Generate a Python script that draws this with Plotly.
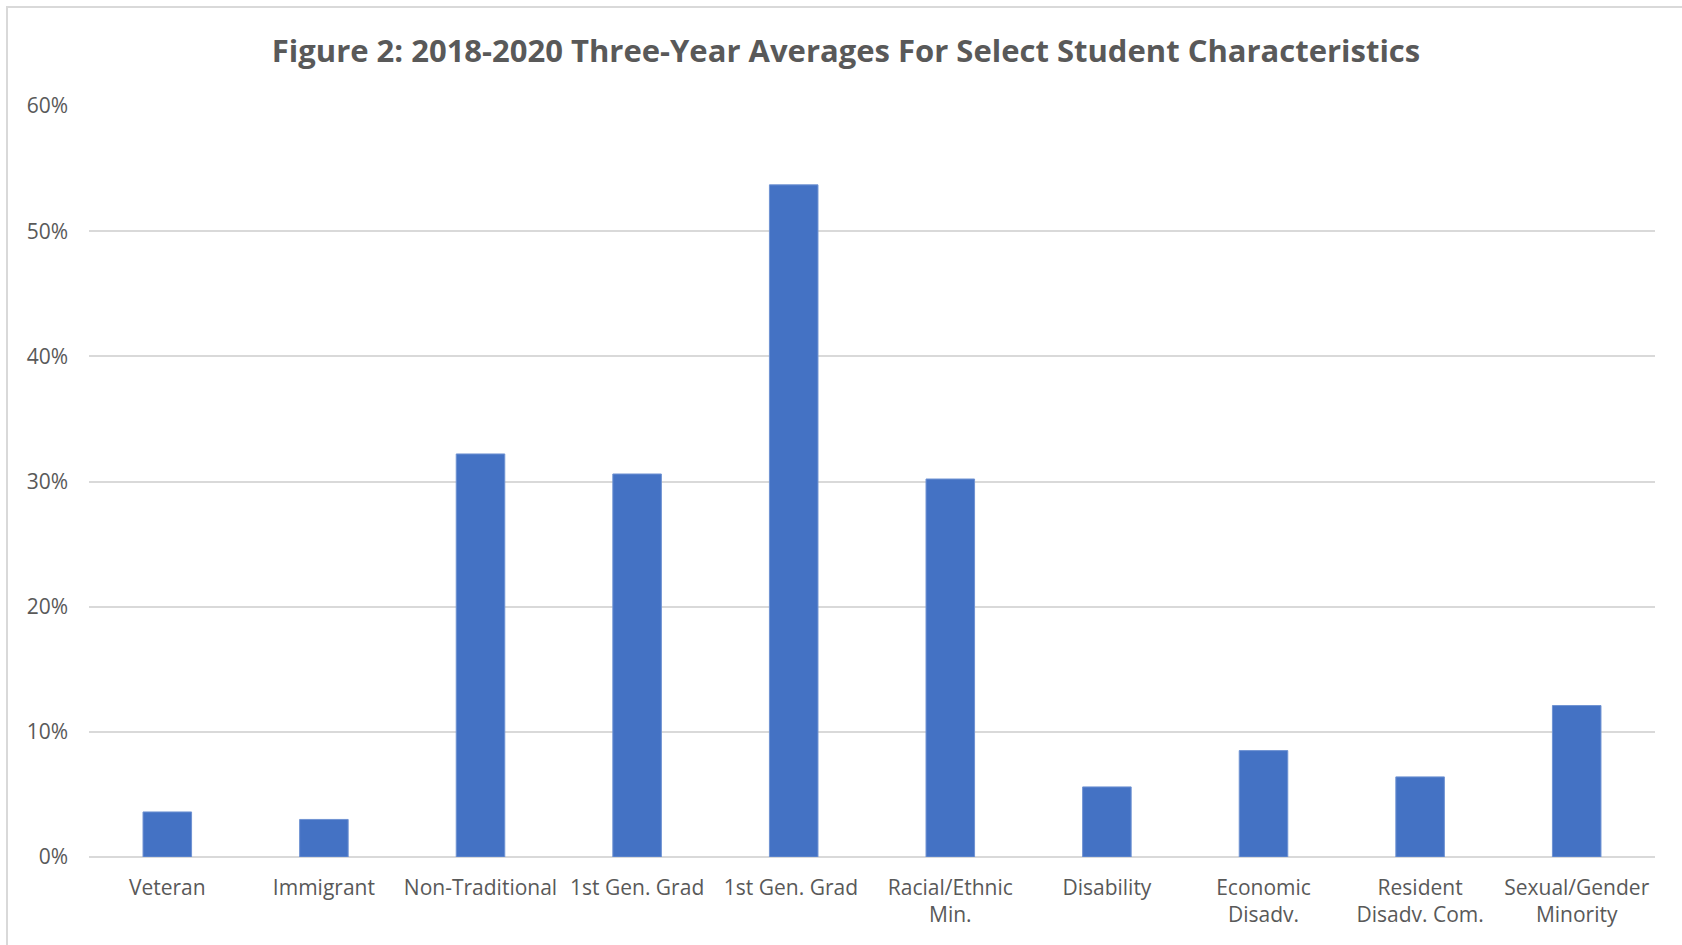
import plotly.graph_objects as go

categories = ["Veteran", "Immigrant", "Non-Traditional", "1st Gen. Grad", "1st Gen. Grad ",
              "Racial/Ethnic<br>Min.", "Disability", "Economic<br>Disadv.",
              "Resident<br>Disadv. Com.", "Sexual/Gender<br>Minority"]
values = [3.6, 3.0, 32.2, 30.6, 53.7, 30.2, 5.6, 8.5, 6.4, 12.1]
y_ticks = [0, 10, 20, 30, 40, 50, 60]
y_tick_labels = ["0%", "10%", "20%", "30%", "40%", "50%", "60%"]

W, H = 1682, 945
L, R, T, B = 89, 27, 106, 88
pw, ph = W - L - R, H - T - B

def px_x(p):
    return (p - L) / pw

def px_y(p):
    return (H - B - p) / ph

TEXT = "#595959"
GRID = "#D9D9D9"
FONT = "Open Sans"

fig = go.Figure(go.Bar(
    x=categories, y=values,
    marker=dict(color="#4472C4", line=dict(color="#6F92D2", width=1)),
    width=0.31,
))

fig.update_layout(
    width=W, height=H,
    margin=dict(l=L, r=R, t=T, b=B),
    paper_bgcolor="white", plot_bgcolor="white",
    showlegend=False,
    title=dict(text="<b>Figure 2: 2018-2020 Three-Year Averages For Select Student Characteristics</b>",
               x=px_x(846), xref="paper", xanchor="center",
               y=1 - 51 / H, yanchor="middle",
               font=dict(family=FONT, size=31, color=TEXT)),
    font=dict(family=FONT, color=TEXT),
    shapes=[dict(type="rect", xref="paper", yref="paper",
                 x0=px_x(7), x1=px_x(W + 10), y0=px_y(H + 10), y1=px_y(7),
                 line=dict(color=GRID, width=2), fillcolor="rgba(0,0,0,0)", layer="below")],
)

fig.update_xaxes(
    type="category", showgrid=False, showline=False, zeroline=False,
    tickfont=dict(family=FONT, size=21, color=TEXT),
    ticks="", ticklabelstandoff=16, tickangle=0,
)
fig.update_yaxes(
    range=[0, 60], tickvals=y_ticks, ticktext=y_tick_labels,
    showgrid=True, gridcolor=GRID, gridwidth=2,
    zeroline=True, zerolinecolor=GRID, zerolinewidth=2,
    showline=False, ticks="", ticklabelstandoff=20,
    tickfont=dict(family=FONT, size=21, color=TEXT),
)

fig.write_html("out.html")
